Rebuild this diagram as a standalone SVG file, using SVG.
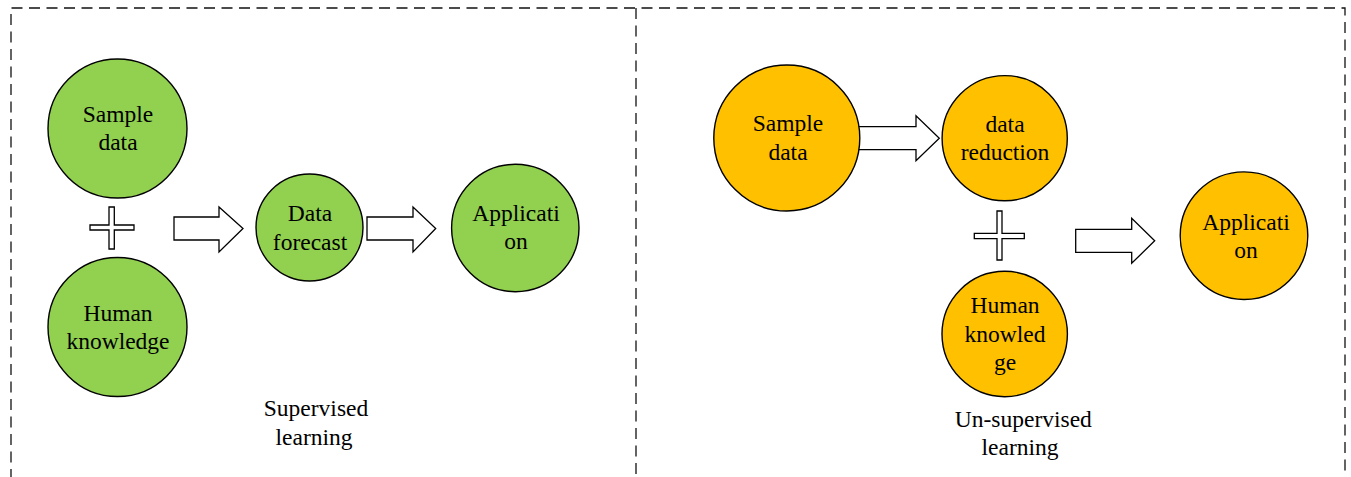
<svg xmlns="http://www.w3.org/2000/svg" width="1351" height="477" viewBox="0 0 1351 477">
<defs>
<style>
.frame{fill:none;stroke:#111;stroke-width:1.3;stroke-dasharray:11 6.5}
.g{fill:#92D050;stroke:#000;stroke-width:1.4}
.o{fill:#FFC000;stroke:#000;stroke-width:1.4}
.blk{fill:#fff;stroke:#000;stroke-width:1.3;stroke-linejoin:miter}
text{font-family:"Liberation Serif","Times New Roman",serif;font-size:23.5px;fill:#000;text-anchor:middle}
</style>
</defs>
<rect width="1351" height="477" fill="#fff"/>
<g id="frame">
<path class="frame" d="M11,480 V8 H1345 V480"/>
<path class="frame" d="M636,8 V480"/>
</g>
<g id="connectors">
<polygon class="blk" points="174,217 219,217 219,207 243,228.5 219,252 219,240 174,240"/>
<polygon class="blk" points="367,217 413,217 413,207 435.7,228.5 413,252 413,240 367,240"/>
<polygon class="blk" points="855,126.7 916,126.7 916,115.7 939.3,138.2 916,160.7 916,149.7 855,149.7"/>
<polygon class="blk" points="1075.7,229.3 1131.7,229.3 1131.7,218.3 1154.7,240.8 1131.7,263.3 1131.7,252.3 1075.7,252.3"/>
<polygon class="blk" points="109,207 114.3,207 114.3,225 134,225 134,230 114.3,230 114.3,249 109,249 109,230 90,230 90,225 109,225"/>
<polygon class="blk" points="997,211 1002,211 1002,233.3 1024.3,233.3 1024.3,238.7 1002,238.7 1002,260 997,260 997,238.7 974.3,238.7 974.3,233.3 997,233.3"/>
</g>
<g id="sup-sample">
<circle class="g" cx="117.5" cy="128.5" r="69.5"/>
<text x="118" y="121.5">Sample</text>
<text x="118" y="150">data</text>
</g>
<g id="sup-human">
<circle class="g" cx="117.5" cy="327" r="69.5"/>
<text x="118" y="320.5">Human</text>
<text x="118" y="349">knowledge</text>
</g>
<g id="sup-forecast">
<circle class="g" cx="309.5" cy="227.5" r="53.5"/>
<text x="310" y="221">Data</text>
<text x="310" y="249.5">forecast</text>
</g>
<g id="sup-application">
<circle class="g" cx="515.3" cy="228" r="63.7"/>
<text x="516" y="220.7">Applicati</text>
<text x="516" y="249.3">on</text>
</g>
<g id="sup-label">
<text x="316" y="416">Supervised</text>
<text x="314" y="444.5">learning</text>
</g>
<g id="uns-sample">
<circle class="o" cx="786.8" cy="138" r="73"/>
<text x="788" y="131">Sample</text>
<text x="788" y="160">data</text>
</g>
<g id="uns-reduction">
<circle class="o" cx="1004.7" cy="138.2" r="62.6"/>
<text x="1005" y="131.7">data</text>
<text x="1005" y="160">reduction</text>
</g>
<g id="uns-human">
<circle class="o" cx="1004.7" cy="334" r="62.7"/>
<text x="1005" y="313.3">Human</text>
<text x="1005" y="341.7">knowled</text>
<text x="1005" y="370">ge</text>
</g>
<g id="uns-application">
<circle class="o" cx="1244" cy="235.7" r="63.8"/>
<text x="1246" y="230">Applicati</text>
<text x="1246" y="258.3">on</text>
</g>
<g id="uns-label">
<text x="1023.3" y="426.7">Un-supervised</text>
<text x="1020" y="455">learning</text>
</g>
</svg>
